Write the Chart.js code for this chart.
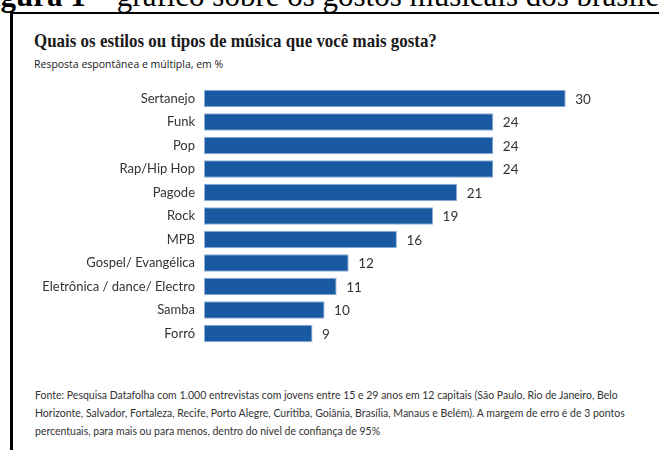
<!DOCTYPE html>
<html>
<head>
<meta charset="utf-8">
<script src="https://cdn.jsdelivr.net/npm/chart.js@4.4.1/dist/chart.umd.min.js"></script>
<style>
  html, body { margin: 0; padding: 0; background: #fff; }
  body { width: 659px; height: 450px; position: relative; overflow: hidden; }
  #figcap { position: absolute; left: -27px; top: -22px; white-space: nowrap; line-height: 35px;
            font-family: "Liberation Serif", "Times New Roman", serif; font-size: 31px; color: #000; }
  #figcap b { font-weight: bold; }
  #box { position: absolute; left: 10px; top: 12px; width: 700px; height: 500px;
         border-left: 3px solid #000; border-top: 2px solid #000; }
  #title { position: absolute; left: 34px; top: 30px; white-space: nowrap; transform-origin: 0 0;
           font-family: "Liberation Serif", serif; font-weight: bold; font-size: 19px; color: #1a1a1a; }
  #subtitle { position: absolute; left: 34px; top: 57px; white-space: nowrap;
              font-family: "Open Sans", sans-serif; font-size: 10.5px; color: #1a1a1a; }
  #note { position: absolute; left: 35px; top: 386px; white-space: nowrap;
          font-family: Lato, sans-serif; font-size: 10.5px; line-height: 18px; color: #333; }
  #wrap { position: absolute; left: 0; top: 70px; width: 659px; height: 292px; }
</style>
</head>
<body>
<div id="figcap"><b>Figura 1</b> – gráfico sobre os gostos musicais dos brasileiros</div>
<div id="box"></div>
<div id="title">Quais os estilos ou tipos de música que você mais gosta?</div>
<div id="subtitle">Resposta espontânea e múltipla, em %</div>
<div id="wrap"><canvas id="chart"></canvas></div>
<div id="note">Fonte: Pesquisa Datafolha com 1.000 entrevistas com jovens entre 15 e 29 anos em 12 capitais (São Paulo, Rio de Janeiro, Belo<br>Horizonte, Salvador, Fortaleza, Recife, Porto Alegre, Curitiba, Goiânia, Brasília, Manaus e Belém). A margem de erro é de 3 pontos<br>percentuais, para mais ou para menos, dentro do nível de confiança de 95%</div>
<script>
const estilos = ['Sertanejo', 'Funk', 'Pop', 'Rap/Hip Hop', 'Pagode', 'Rock', 'MPB', 'Gospel/ Evangélica', 'Eletrônica / dance/ Electro', 'Samba', 'Forró'];
const percentuais = [30, 24, 24, 24, 21, 19, 16, 12, 11, 10, 9];

// fit the title to the width it has in the picture
const titulo = document.getElementById('title');
titulo.style.transform = 'scaleX(' + (403 / titulo.offsetWidth) + ')';

// writes the value right after each bar
const rotulos = {
    id: 'rotulos',
    afterDatasetsDraw(chart) {
        const ctx = chart.ctx;
        ctx.save();
        ctx.font = '13.5px Lato, sans-serif';
        ctx.fillStyle = '#333';
        ctx.textAlign = 'left';
        ctx.textBaseline = 'middle';
        chart.getDatasetMeta(0).data.forEach((bar, i) => {
            ctx.fillText(percentuais[i], bar.x + 9.5, bar.y + 1);
        });
        ctx.restore();
    }
};

Chart.defaults.font.family = 'Lato, sans-serif';

new Chart(document.getElementById('chart'), {
    type: 'bar',
    data: {
        labels: estilos,
        datasets: [{
            data: percentuais,
            backgroundColor: '#1859a1',
            borderColor: '#8eb0da',
            borderWidth: 1,
            borderSkipped: false,
            barPercentage: 0.745,
            categoryPercentage: 1
        }]
    },
    options: {
        indexAxis: 'y',
        responsive: true,
        maintainAspectRatio: false,
        animation: false,
        layout: { padding: { left: 0, right: 33, top: 0, bottom: 0 } },
        plugins: { legend: { display: false }, tooltip: { enabled: false } },
        scales: {
            x: { display: false, min: 0, max: 35 },
            y: {
                grid: { display: false, drawTicks: false },
                border: { display: false },
                ticks: { padding: 9, color: '#333', font: { size: 13 } },
                afterFit(scale) { scale.width = 204; }
            }
        }
    },
    plugins: [rotulos]
});
</script>
</body>
</html>
